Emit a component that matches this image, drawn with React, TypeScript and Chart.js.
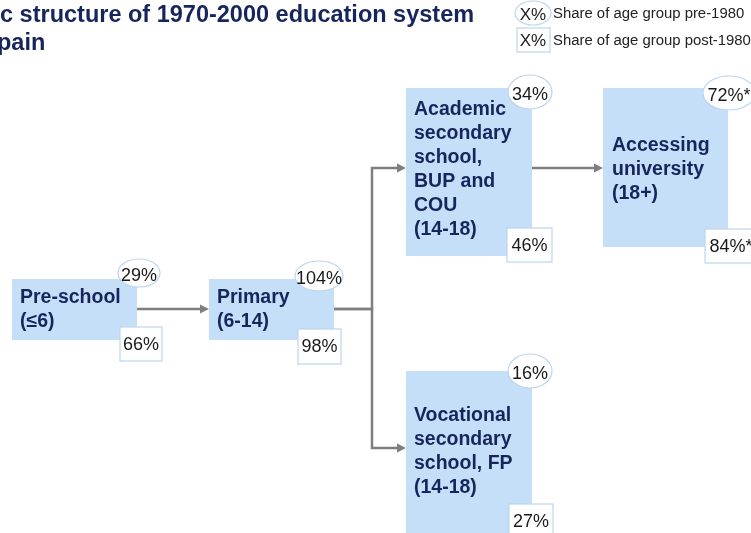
import { useEffect, useRef } from "react";
import { Chart, registerables } from "chart.js";

Chart.register(...registerables);

const W = 751;
const H = 533;

// ---------- data ----------
const titleLines = ["Basic structure of 1970-2000 education system", "in Spain"];
const legendSymbol = "X%";
const legendLabels = ["Share of age group pre-1980", "Share of age group post-1980"];
const stages = [
  "Pre-school",
  "Primary",
  "Academic secondary school",
  "Accessing university",
  "Vocational secondary school",
];
const stageLines = [
  ["Pre-school", "(≤6)"],
  ["Primary", "(6-14)"],
  ["Academic", "secondary", "school,", "BUP and", "COU", "(14-18)"],
  ["Accessing", "university", "(18+)"],
  ["Vocational", "secondary", "school, FP", "(14-18)"],
];
const sharePre1980 = [29, 104, 34, 72, 16];
const sharePost1980 = [66, 98, 46, 84, 27];
const shareNote = ["", "", "", "*", ""];
const flowFrom = [0, 1, 1, 2];
const flowTo = [1, 2, 4, 3];

// ---------- layout (chart units) ----------
const boxX0 = [12, 209, 406, 603, 406];
const boxX1 = [137, 334, 532, 728, 532];
const boxY0 = [279, 279, 88, 88, 371];
const boxY1 = [340, 340, 256, 247, 545];
const labelX = [20, 217, 414, 612, 414];
const labelY = [298, 298, 110, 146, 416];
const labelStep = 24;
const preCx = [139, 319, 530, 729, 530];
const preCy = [273, 276, 92, 93, 371];
const preRx = [21, 24, 22, 26, 22];
const preRy = [14, 15, 17, 17, 17];
const postX = [120, 298, 507, 705, 509];
const postY = [327, 329, 228, 229, 504];
const postW = [42, 43, 45, 52, 44];
const postH = [34, 35, 34, 34, 35];
const exitY = [309, 309, 168, 0, 0];
const entryY = [0, 309, 168, 168, 448];
const flowBendX = [0, 372, 372, 0];

// ---------- styles ----------
const FONT = "'Liberation Sans', Arial, Helvetica, sans-serif";
const NAVY = "#16265c";
const BOX_FILL = "#c6dff8";
const BADGE_STROKE = "#bdd5ee";
const ARROW = "#7f7f7f";

const diagramPlugin = {
  id: "diagram",
  afterDatasetsDraw(chart: any) {
    const ctx = chart.ctx as CanvasRenderingContext2D;
    const xs = chart.scales.x;
    const ys = chart.scales.y;
    const px = (v: number) => xs.getPixelForValue(v);
    const py = (v: number) => ys.getPixelForValue(v);
    ctx.save();

    // title
    ctx.fillStyle = NAVY;
    ctx.font = `bold 23.5px ${FONT}`;
    ctx.textBaseline = "alphabetic";
    ctx.textAlign = "left";
    ctx.fillText(titleLines[0], px(0) - ctx.measureText("Basi").width, py(22));
    ctx.fillText(titleLines[1], px(0) - ctx.measureText("in S").width - 3, py(50));

    // legend
    const lgX = [533, 533];
    const lgY = [13, 40];
    ctx.lineWidth = 1.2;
    ctx.strokeStyle = BADGE_STROKE;
    ctx.fillStyle = "#ffffff";
    ctx.beginPath();
    ctx.ellipse(px(lgX[0]), py(lgY[0]), px(18) - px(0), py(12) - py(0), 0, 0, Math.PI * 2);
    ctx.fill();
    ctx.stroke();
    ctx.fillRect(px(517), py(28), px(33) - px(0), py(24) - py(0));
    ctx.strokeRect(px(517), py(28), px(33) - px(0), py(24) - py(0));
    ctx.fillStyle = "#1a1a1a";
    ctx.font = `17px ${FONT}`;
    ctx.textAlign = "center";
    ctx.textBaseline = "middle";
    ctx.fillText(legendSymbol, px(lgX[0]), py(lgY[0] + 2));
    ctx.fillText(legendSymbol, px(lgX[1]), py(lgY[1] + 1));
    ctx.font = `14.9px ${FONT}`;
    ctx.textAlign = "left";
    ctx.fillStyle = "#222222";
    ctx.fillText(legendLabels[0], px(553), py(lgY[0] + 1));
    ctx.fillText(legendLabels[1], px(553), py(lgY[1] + 1));

    // boxes
    stages.forEach((_, i) => {
      ctx.fillStyle = BOX_FILL;
      ctx.fillRect(px(boxX0[i]), py(boxY0[i]), px(boxX1[i]) - px(boxX0[i]), py(boxY1[i]) - py(boxY0[i]));
      ctx.fillStyle = NAVY;
      ctx.font = `bold 19.5px ${FONT}`;
      ctx.textAlign = "left";
      ctx.textBaseline = "middle";
      stageLines[i].forEach((ln, j) => {
        ctx.fillText(ln, px(labelX[i]), py(labelY[i] + j * labelStep));
      });
    });

    // flows
    ctx.strokeStyle = ARROW;
    ctx.fillStyle = ARROW;
    ctx.lineWidth = 2.5;
    flowFrom.forEach((s, k) => {
      const t = flowTo[k];
      const pts: number[][] = [[boxX1[s], exitY[s]]];
      if (exitY[s] !== entryY[t]) {
        pts.push([flowBendX[k], exitY[s]]);
        pts.push([flowBendX[k], entryY[t]]);
      }
      pts.push([boxX0[t] - 7, entryY[t]]);
      ctx.beginPath();
      pts.forEach((p, idx) => {
        if (idx === 0) ctx.moveTo(px(p[0]), py(p[1]));
        else ctx.lineTo(px(p[0]), py(p[1]));
      });
      ctx.stroke();
      const tx = px(boxX0[t]);
      const ty = py(entryY[t]);
      ctx.beginPath();
      ctx.moveTo(tx, ty);
      ctx.lineTo(tx - 9, ty - 4.5);
      ctx.lineTo(tx - 9, ty + 4.5);
      ctx.closePath();
      ctx.fill();
    });

    // badges
    stages.forEach((_, i) => {
      ctx.lineWidth = 1.2;
      ctx.strokeStyle = BADGE_STROKE;
      ctx.fillStyle = "#ffffff";
      ctx.beginPath();
      ctx.ellipse(px(preCx[i]), py(preCy[i]), px(preRx[i]) - px(0), py(preRy[i]) - py(0), 0, 0, Math.PI * 2);
      ctx.fill();
      ctx.stroke();
      ctx.fillRect(px(postX[i]), py(postY[i]), px(postW[i]) - px(0), py(postH[i]) - py(0));
      ctx.strokeRect(px(postX[i]), py(postY[i]), px(postW[i]) - px(0), py(postH[i]) - py(0));
      ctx.fillStyle = "#1a1a1a";
      ctx.font = `18px ${FONT}`;
      ctx.textAlign = "center";
      ctx.textBaseline = "middle";
      ctx.fillText(`${sharePre1980[i]}%${shareNote[i]}`, px(preCx[i]), py(preCy[i] + 3));
      ctx.fillText(
        `${sharePost1980[i]}%${shareNote[i]}`,
        px(postX[i] + postW[i] / 2),
        py(postY[i] + postH[i] / 2 + 1)
      );
    });

    ctx.restore();
  },
};

export default function App() {
  const ref = useRef<HTMLCanvasElement | null>(null);
  useEffect(() => {
    if (!ref.current) return;
    const chart = new Chart(ref.current, {
      type: "scatter",
      data: {
        datasets: [
          {
            label: "Stages",
            data: stages.map((_, i) => ({ x: boxX0[i], y: boxY0[i] })),
            pointRadius: 0,
            showLine: false,
          },
        ],
      },
      options: {
        responsive: false,
        animation: false,
        events: [],
        layout: { padding: 0 },
        plugins: { legend: { display: false }, tooltip: { enabled: false }, title: { display: false } },
        scales: {
          x: { type: "linear", min: 0, max: W, display: false },
          y: { type: "linear", min: 0, max: H, reverse: true, display: false },
        },
      },
      plugins: [diagramPlugin],
    });
    return () => chart.destroy();
  }, []);
  return (
    <div style={{ position: "fixed", left: 0, top: 0, width: W, height: H, background: "#ffffff" }}>
      <canvas ref={ref} width={W} height={H} style={{ width: W, height: H, display: "block" }} />
    </div>
  );
}
